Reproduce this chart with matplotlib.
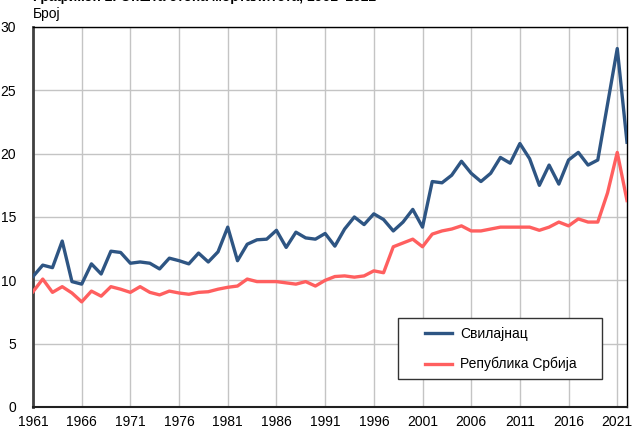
import matplotlib
matplotlib.use("Agg")
import matplotlib.pyplot as plt
from matplotlib.patches import Rectangle

plt.rcParams['font.family'] = ['Liberation Sans', 'DejaVu Sans']

years = list(range(1961, 2023))
svilajnac = [10.3, 11.2, 11.0, 13.1, 9.9, 9.7, 11.3, 10.5, 12.3, 12.2,
             11.35, 11.45, 11.35, 10.9, 11.75, 11.55, 11.3, 12.15, 11.45, 12.25,
             14.2, 11.55, 12.85, 13.2, 13.25, 13.95, 12.6, 13.8, 13.35, 13.25,
             13.7, 12.7, 14.05, 15.0, 14.4, 15.25, 14.8, 13.9, 14.6, 15.6,
             14.2, 17.8, 17.7, 18.3, 19.4, 18.45, 17.8, 18.45, 19.7, 19.25,
             20.8, 19.6, 17.5, 19.1, 17.6, 19.5, 20.1, 19.1, 19.5, 23.9,
             28.3, 20.9]
srbija = [9.1, 10.1, 9.05, 9.5, 9.0, 8.3, 9.15, 8.75, 9.5, 9.3,
          9.05, 9.5, 9.05, 8.85, 9.15, 9.0, 8.9, 9.05, 9.1, 9.3,
          9.45, 9.55, 10.1, 9.9, 9.9, 9.9, 9.8, 9.7, 9.9, 9.55,
          10.0, 10.3, 10.35, 10.25, 10.35, 10.75, 10.6, 12.65, 12.95, 13.25,
          12.65, 13.65, 13.9, 14.05, 14.3, 13.9, 13.9, 14.05, 14.2, 14.2,
          14.2, 14.2, 13.95, 14.2, 14.6, 14.3, 14.85, 14.6, 14.6, 16.9,
          20.1, 16.3]
series_labels = ['Свилајнац', 'Република Србија']
xtick_years = list(range(1961, 2022, 5))
ytick_values = [0, 5, 10, 15, 20, 25, 30]

fig = plt.figure(figsize=(6.32, 4.30), dpi=100)
ax = fig.add_axes([33/632, (430-407)/430, (627-33)/632, (407-27)/430])

ax.plot(years, svilajnac, color='#2E5583', lw=2.4, label=series_labels[0],
        solid_joinstyle='round', zorder=3)
ax.plot(years, srbija, color='#FF5F5F', lw=2.4, label=series_labels[1],
        solid_joinstyle='round', zorder=3)

ax.set_xlim(1961, 2022)
ax.set_ylim(0, 30)
ax.set_xticks(xtick_years)
ax.set_xticklabels([str(y) for y in xtick_years])
ax.set_yticks(ytick_values)
ax.grid(True, color='#c4c4c4', lw=1.0, zorder=0)
ax.set_axisbelow(True)
ax.tick_params(axis='both', length=0, labelsize=10, colors='black')
ax.tick_params(axis='y', pad=12)
ax.tick_params(axis='x', pad=6)

for s in ['top', 'right']:
    ax.spines[s].set_color('black')
    ax.spines[s].set_linewidth(1.0)
ax.spines['left'].set_color('#404040')
ax.spines['left'].set_linewidth(2.0)
ax.spines['bottom'].set_color('#202020')
ax.spines['bottom'].set_linewidth(1.5)

# legend frame
ax.add_patch(Rectangle((0.6145, 0.0737), 0.3434, 0.1605, transform=ax.transAxes,
                       facecolor='white', edgecolor='#333333', lw=1.0, zorder=4))
leg = ax.legend(loc='upper left', bbox_to_anchor=(0.660, 0.2105), frameon=False,
                borderpad=0, borderaxespad=0, handlelength=1.95, handletextpad=0.55,
                labelspacing=1.15, fontsize=10)
leg.set_zorder(5)

fig.text(33/632, 1 - 14/430, 'Број', fontsize=10, va='center', ha='left')
fig.text(33/632, 1 - 1.5/430, 'Графикон 2. Општа стопа морталитета, 1961–2022',
         fontsize=10, fontweight='bold', va='baseline', ha='left')

fig.savefig('out.png', dpi=100)
